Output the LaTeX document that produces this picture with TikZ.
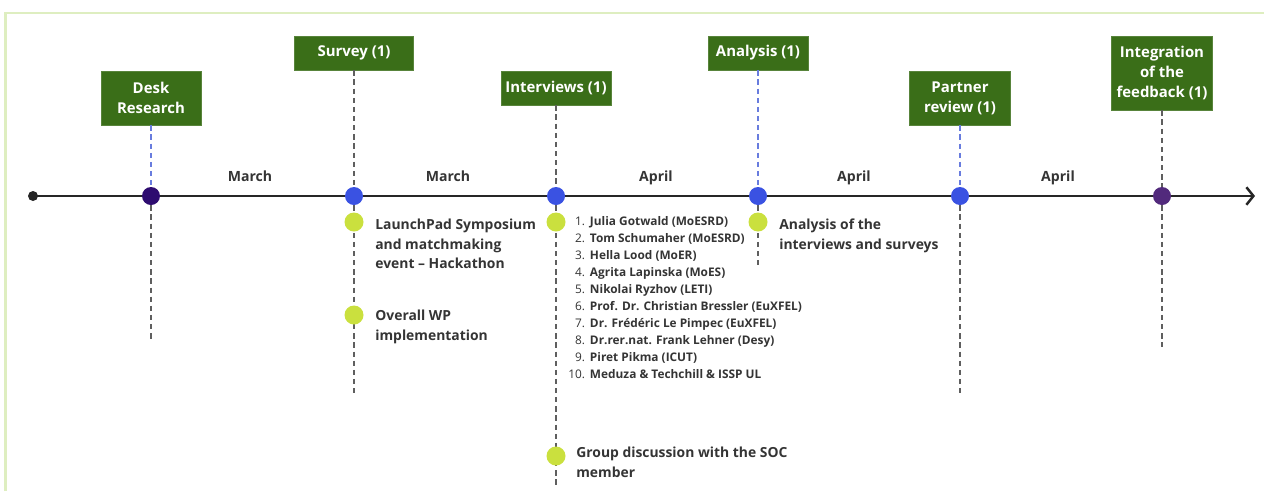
\documentclass[tikz,border=0pt]{standalone}
\usepackage{fontspec}
\setmainfont{Open Sans}
\usetikzlibrary{arrows.meta, positioning}

\definecolor{boxgreen}{RGB}{58,110,24}
\definecolor{subgreen}{RGB}{202,224,62}
\definecolor{darkdot}{RGB}{46,12,112}
\definecolor{bluedot}{RGB}{58,82,226}
\definecolor{enddot}{RGB}{82,42,124}
\definecolor{lineblue}{RGB}{104,124,222}
\definecolor{linegray}{RGB}{95,95,95}
\definecolor{framegreen}{RGB}{222,238,192}
\definecolor{textgray}{RGB}{52,52,52}

\begin{document}
\begin{tikzpicture}[x=0.02cm, y=-0.02cm,
    phase/.style={fill=boxgreen, draw=boxgreen!85!white, inner sep=2pt,
                  align=center, text=white,
                  font=\fontsize{8.5}{11.3}\selectfont\bfseries},
    mdot/.style={circle, inner sep=0pt, minimum size=0.36cm},
    sdot/.style={circle, fill=subgreen, inner sep=0pt, minimum size=0.38cm},
    upblue/.style={draw=lineblue, line width=0.7pt, dash pattern=on 3pt off 2.2pt},
    upgray/.style={draw=linegray, line width=0.7pt, dash pattern=on 3pt off 2.2pt},
    downln/.style={draw=linegray, line width=0.7pt, dash pattern=on 3pt off 2.2pt},
    month/.style={font=\fontsize{8}{10}\selectfont\bfseries, text=textgray,
                  anchor=base, inner sep=0pt},
    evt/.style={font=\fontsize{7.9}{11}\selectfont\bfseries, text=textgray,
                align=left, anchor=north west, inner sep=0pt},
]
\useasboundingbox (0,0) rectangle (1264,491);

% Positions
\pgfmathsetmacro{\xA}{151}
\pgfmathsetmacro{\xB}{354}
\pgfmathsetmacro{\xC}{556}
\pgfmathsetmacro{\xD}{758}
\pgfmathsetmacro{\xE}{960}
\pgfmathsetmacro{\xF}{1162}
\pgfmathsetmacro{\yT}{196}

% ===== FRAME =====
\draw[framegreen, line width=1.2pt] (5.5,491) -- (5.5,13) -- (1264,13);

% ===== TIMELINE =====
\node[circle, fill=black!85, inner sep=0pt, minimum size=0.2cm] (start) at (33, \yT) {};
\coordinate (tend) at (1255, \yT);
\draw[black!85, line width=1.4pt, -{Straight Barb[length=4pt, width=10pt, line width=1.4pt]}]
    (start.center) -- (tend);

% ===== PHASE BOXES =====
\node[phase, minimum width=2cm, minimum height=1.08cm] (bDesk) at (\xA, 98) {Desk\\Research};
\node[phase, minimum width=2.38cm, minimum height=0.68cm] (bSurvey) at (\xB, 53) {Survey (1)};
\node[phase, minimum width=2.2cm, minimum height=0.68cm] (bInterv) at (\xC, 88) {Interviews (1)};
\node[phase, minimum width=2cm, minimum height=0.68cm] (bAnalys) at (\xD, 53) {Analysis (1)};
\node[phase, minimum width=2.02cm, minimum height=1.08cm] (bPartner) at (\xE, 98) {Partner\\review (1)};
\node[phase, minimum width=2.02cm, minimum height=1.48cm] (bInteg) at (\xF, 73) {Integration\\of the\\feedback (1)};

% ===== MILESTONE DOTS =====
\node[mdot, fill=darkdot] (dDesk) at (\xA, \yT) {};
\node[mdot, fill=bluedot] (dSurvey) at (\xB, \yT) {};
\node[mdot, fill=bluedot] (dInterv) at (\xC, \yT) {};
\node[mdot, fill=bluedot] (dAnalys) at (\xD, \yT) {};
\node[mdot, fill=bluedot] (dPartner) at (\xE, \yT) {};
\node[mdot, fill=enddot] (dInteg) at (\xF, \yT) {};

% dashed links box -> dot
\draw[upblue] (bDesk.south) -- (dDesk.north);
\draw[upgray] (bSurvey.south) -- (dSurvey.north);
\draw[upgray] (bInterv.south) -- (dInterv.north);
\draw[upblue] (bAnalys.south) -- (dAnalys.north);
\draw[upblue] (bPartner.south) -- (dPartner.north);
\draw[upgray] (bInteg.south) -- (dInteg.north);

% dashed drop lines below the dots
\coordinate (eDesk) at (\xA, 340);
\coordinate (eSurvey) at (\xB, 393);
\coordinate (eInterv) at (\xC, 488);
\coordinate (eAnalys) at (\xD, 266);
\coordinate (ePartner) at (\xE, 393);
\coordinate (eInteg) at (\xF, 347);
\draw[downln] (dDesk.south) -- (eDesk);
\draw[downln] (dSurvey.south) -- (eSurvey);
\draw[downln] (dInterv.south) -- (eInterv);
\draw[downln] (dAnalys.south) -- (eAnalys);
\draw[downln] (dPartner.south) -- (ePartner);
\draw[downln] (dInteg.south) -- (eInteg);

% ===== MONTHS =====
\node[month] (m1) at (250, 181) {March};
\node[month] (m2) at (448, 181) {March};
\node[month] (m3) at (656, 181) {April};
\node[month] (m4) at (854, 181) {April};
\node[month] (m5) at (1058, 181) {April};

% ===== SUB-ACTIVITIES =====
\node[sdot] (sLaunch) at (\xB, 222) {};
\node[sdot] (sWP) at (\xB, 315) {};
\node[sdot] (sList) at (\xC, 222) {};
\node[sdot] (sGroup) at (\xC, 456) {};
\node[sdot] (sAnalys) at (\xD, 222) {};

\node[evt] (tLaunch) at (375, 219) {LaunchPad Symposium\\and matchmaking\\event -- Hackathon};
\node[evt] (tWP) at (375, 310) {Overall WP\\implementation};
\node[evt] (tAnalys) at (779, 219) {Analysis of the\\interviews and surveys};
\node[evt] (tGroup) at (576, 447) {Group discussion with the SOC\\member};

% interviewees
\node[anchor=base west, inner sep=0pt, text=textgray,
      font=\fontsize{6.75}{9.72}\selectfont] (tList) at (568, 225) {%
  \begin{tabular}[t]{@{}r@{\hspace{2.8pt}}l@{}}
  1. & \textbf{Julia Gotwald (MoESRD)}\\
  2. & \textbf{Tom Schumaher (MoESRD)}\\
  3. & \textbf{Hella Lood (MoER)}\\
  4. & \textbf{Agrita Lapinska (MoES)}\\
  5. & \textbf{Nikolai Ryzhov (LETI)}\\
  6. & \textbf{Prof. Dr. Christian Bressler (EuXFEL)}\\
  7. & \textbf{Dr. Frédéric Le Pimpec (EuXFEL)}\\
  8. & \textbf{Dr.rer.nat. Frank Lehner (Desy)}\\
  9. & \textbf{Piret Pikma (ICUT)}\\
  10. & \textbf{Meduza \& Techchill \& ISSP UL}
  \end{tabular}};

\end{tikzpicture}
\end{document}
